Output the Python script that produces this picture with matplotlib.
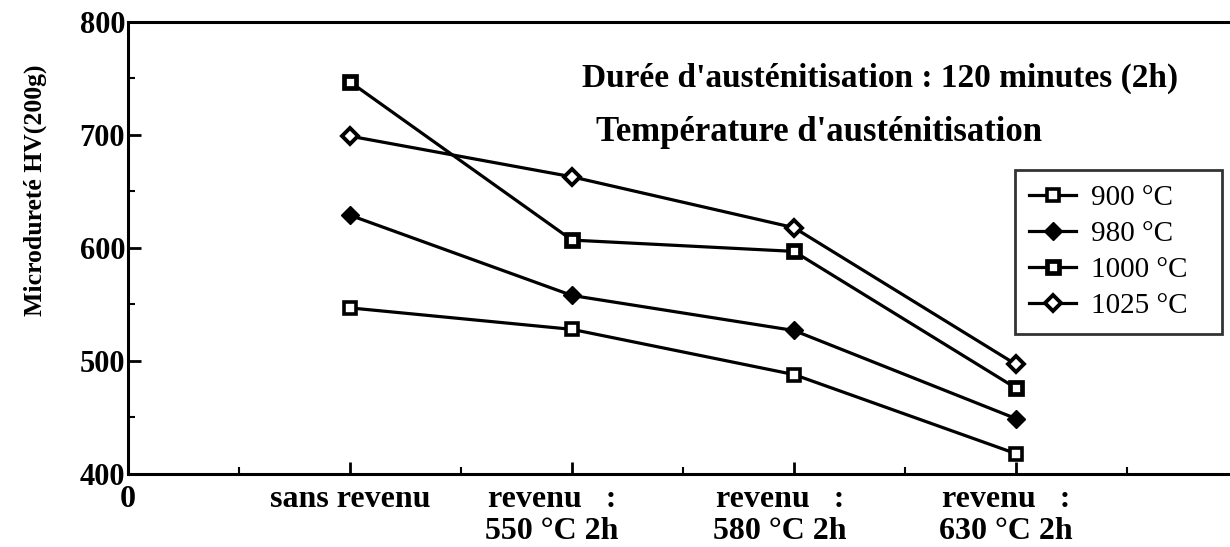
import matplotlib.pyplot as plt
import matplotlib.transforms as mtransforms
from matplotlib.ticker import MultipleLocator

# traitements (abscisse)
positions = [1, 2, 3, 4]
tick_pos = [0, 1, 2, 3, 4]
tick_labels = ["0", "sans revenu", "revenu   :\n550 °C 2h",
               "revenu   :\n580 °C 2h", "revenu   :\n630 °C 2h"]

# microdureté HV(200g) par température d'austénitisation
hv_900 = [547, 528, 488, 418]
hv_980 = [629, 558, 527, 449]
hv_1000 = [747, 607, 597, 476]
hv_1025 = [699, 663, 618, 497]

plt.rcParams['font.family'] = ['Liberation Serif', 'DejaVu Serif']

fig = plt.figure(figsize=(12.3, 5.47), dpi=100)
ax = fig.add_axes([128/1230, 1-474/547, 1110/1230, 452/547])

lw = 2.3
ax.plot(positions, hv_900, color='black', lw=lw, marker='s', ms=9,
        mfc='white', mec='black', mew=2.6, label='900 °C')
ax.plot(positions, hv_980, color='black', lw=lw, marker='D', ms=9,
        mfc='black', mec='black', label='980 °C')
ax.plot(positions, hv_1000, color='black', lw=lw, marker='s', ms=9,
        mfc='white', mec='black', mew=3.4, label='1000 °C')
ax.plot(positions, hv_1025, color='black', lw=lw, marker='D', ms=8,
        mfc='white', mec='black', mew=2.8, label='1025 °C')

ax.set_xlim(0, 5)
ax.set_ylim(400, 800)

ax.yaxis.set_major_locator(MultipleLocator(100))
ax.yaxis.set_minor_locator(MultipleLocator(50))
ax.xaxis.set_minor_locator(MultipleLocator(0.5))
ax.set_xticks(tick_pos)
ax.set_xticklabels(tick_labels, fontweight='bold', fontsize=23,
                   linespacing=1.15)
for lbl in ax.get_yticklabels():
    lbl.set_fontweight('bold')
    lbl.set_fontsize(22)

ax.tick_params(axis='both', which='major', direction='in', length=9,
               width=2, pad=2)
ax.tick_params(axis='both', which='minor', direction='in', length=5,
               width=1.5)
ax.tick_params(axis='x', which='major', pad=8)

# decaler un peu les libelles "revenu" vers la gauche
offsets = [0, 0, -20, -14, -10]
for lbl, dx in zip(ax.get_xticklabels(), offsets):
    lbl.set_transform(lbl.get_transform() +
                      mtransforms.ScaledTranslation(dx/100, 0, fig.dpi_scale_trans))

for side in ['left', 'bottom', 'top']:
    ax.spines[side].set_linewidth(2.2)
ax.spines['right'].set_visible(False)

ax.set_ylabel("Microdureté HV(200g)", fontweight='bold', fontsize=18.5)
ax.yaxis.set_label_coords(-0.073, 0.628)

ax.text(2.045, 750, "Durée d'austénitisation : 120 minutes (2h)",
        fontweight='bold', fontsize=24, va='center', ha='left')
ax.text(2.11, 702, "Température d'austénitisation",
        fontweight='bold', fontsize=25, va='center', ha='left')

leg = ax.legend(loc='upper left', bbox_to_anchor=(0.799, 0.319, 0.187, 0.354),
                mode='expand', borderaxespad=0, fontsize=21, frameon=True,
                fancybox=False, handlelength=1.6, labelspacing=0.33,
                borderpad=0.5, handletextpad=0.5)
leg.get_frame().set_edgecolor('black')
leg.get_frame().set_linewidth(2)

fig.savefig("out.png", dpi=100)
